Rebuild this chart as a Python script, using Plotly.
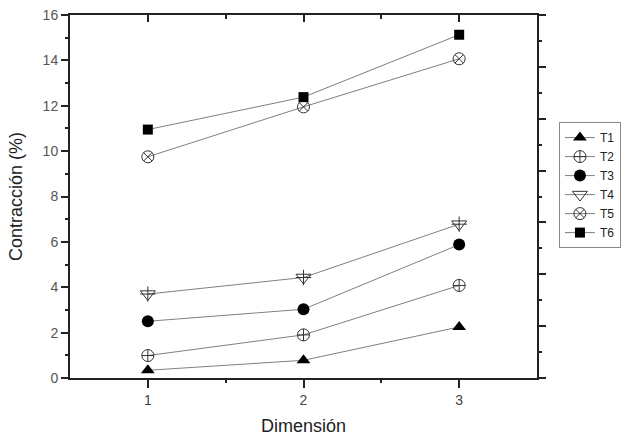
import plotly.graph_objects as go

dimension = [1, 2, 3]
t1 = [0.34, 0.78, 2.25]
t2 = [0.99, 1.90, 4.08]
t3 = [2.50, 3.03, 5.88]
t4 = [3.70, 4.43, 6.78]
t5 = [9.75, 11.95, 14.07]
t6 = [10.95, 12.38, 15.13]
names = ["T1", "T2", "T3", "T4", "T5", "T6"]
series = [t1, t2, t3, t4, t5, t6]

x_ticks = [1, 2, 3]
y_ticks = [0, 2, 4, 6, 8, 10, 12, 14, 16]

styles = {
    "T1": dict(symbol="triangle-up", size=12, color="black", line=dict(width=0)),
    "T2": dict(symbol="circle-cross-open", size=12, color="#333", line=dict(width=1, color="#333")),
    "T3": dict(symbol="circle", size=12, color="black", line=dict(width=0)),
    "T4": dict(symbol="triangle-down-open", size=13, color="#333", line=dict(width=1, color="#333")),
    "T5": dict(symbol="circle-x-open", size=12, color="#333", line=dict(width=1, color="#333")),
    "T6": dict(symbol="square", size=10, color="black", line=dict(width=0)),
}

fig = go.Figure()
for name, vals in zip(names, series):
    fig.add_trace(go.Scatter(
        x=dimension, y=vals, name=name, mode="lines+markers",
        line=dict(color="#808080", width=1),
        marker=styles[name],
    ))
# plus overlay to make T4's crossed down-triangle
fig.add_trace(go.Scatter(
    x=dimension, y=t4, mode="markers", showlegend=False, hoverinfo="skip",
    marker=dict(symbol="cross-thin-open", size=11, color="#333", line=dict(width=1, color="#333")),
))
# dummy trace to activate mirrored top/right axes
fig.add_trace(go.Scatter(x=[None], y=[None], xaxis="x2", yaxis="y2",
                         showlegend=False, hoverinfo="skip"))

font = "Liberation Sans, Arial, sans-serif"
axis_line = "#222"

fig.update_layout(
    width=633, height=436,
    margin=dict(l=70, r=94, t=15, b=58),
    paper_bgcolor="white", plot_bgcolor="white",
    font=dict(family=font, color="#222"),
    showlegend=True,
    legend=dict(
        x=1.047, y=0.705, xanchor="left", yanchor="top",
        bordercolor="#888", borderwidth=1, bgcolor="white",
        font=dict(family=font, size=12, color="#222"),
        tracegroupgap=0,
    ),
    xaxis=dict(
        range=[0.5, 3.5], tickvals=x_ticks, ticks="outside", ticklen=8, tickwidth=1.5,
        tickcolor=axis_line, showline=True, linecolor=axis_line, linewidth=2,
        showgrid=False, zeroline=False, automargin=False,
        tickfont=dict(size=14, color="#444"),
        minor=dict(tickvals=[1.5, 2.5], ticks="outside", ticklen=3, tickcolor=axis_line, tickwidth=1.5),
        title=dict(text="Dimensión", font=dict(size=18, color="#222")),
    ),
    yaxis=dict(
        range=[0, 16], tickvals=y_ticks, ticks="outside", ticklen=7, tickwidth=1.5,
        tickcolor=axis_line, showline=True, linecolor=axis_line, linewidth=2,
        showgrid=False, zeroline=False, automargin=False,
        tickfont=dict(size=14, color="#555"),
        minor=dict(dtick=1, ticks="outside", ticklen=3, tickcolor=axis_line, tickwidth=1.5),
        title=dict(text="Contracción (%)", font=dict(size=18, color="#222")),
    ),
    xaxis2=dict(
        overlaying="x", side="top", anchor="y", range=[0.5, 3.5], tickvals=x_ticks,
        ticks="inside", ticklen=7, tickwidth=1.5, tickcolor=axis_line,
        showline=True, linecolor=axis_line, linewidth=2, showticklabels=False,
        showgrid=False, zeroline=False, automargin=False,
        minor=dict(tickvals=[1.5, 2.5], ticks="inside", ticklen=4, tickcolor=axis_line, tickwidth=1.5),
    ),
    yaxis2=dict(
        overlaying="y", side="right", anchor="x", range=[0, 14], dtick=2,
        ticks="outside", ticklen=7, tickwidth=1.5, tickcolor=axis_line,
        showline=True, linecolor=axis_line, linewidth=2, showticklabels=False,
        showgrid=False, zeroline=False, automargin=False,
        minor=dict(dtick=1, ticks="outside", ticklen=3, tickcolor=axis_line, tickwidth=1.5),
    ),
)

fig.write_html("out.html", config={"displayModeBar": False},
               post_script="document.body.style.margin='0px';")
